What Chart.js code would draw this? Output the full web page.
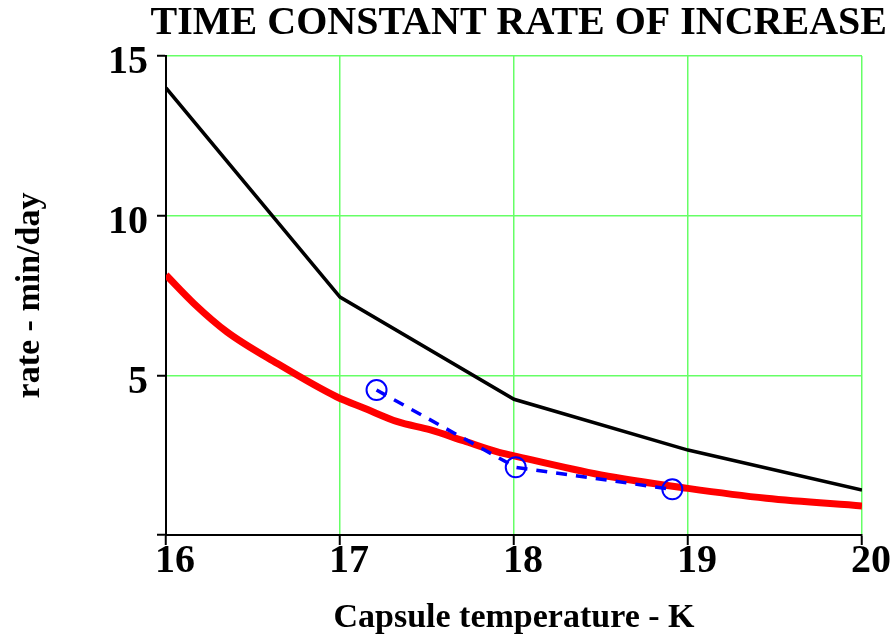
<!DOCTYPE html>
<html>
<head>
<meta charset="utf-8">
<title>Time constant rate of increase</title>
<script src="https://cdn.jsdelivr.net/npm/chart.js@4.4.0/dist/chart.umd.min.js"></script>
<style>
  html, body { margin: 0; padding: 0; background: #fff; }
</style>
</head>
<body>
<canvas id="rateChart" width="894" height="643"></canvas>
<script>
Chart.defaults.font.family = "'Liberation Serif', 'Times New Roman', serif";
Chart.defaults.font.weight = "bold";
Chart.defaults.color = "#000";

// capsule temperature (K) against rate (min/day)
const redTemp = [16.0, 16.16, 16.35, 16.64, 16.98, 17.14, 17.33, 17.52, 17.71, 17.9, 18.0, 18.5, 19.0, 19.45, 20.0];
const redRate = [8.14, 7.25, 6.36, 5.37, 4.33, 3.97, 3.55, 3.29, 2.95, 2.61, 2.48, 1.88, 1.46, 1.15, 0.91];
const blackTemp = [16, 17, 18, 19, 20];
const blackRate = [14.0, 7.45, 4.25, 2.66, 1.41];
const blueTemp = [17.21, 18.01, 18.91];
const blueRate = [4.54, 2.12, 1.43];
const xTicks = [16, 17, 18, 19, 20];
const yTicks = [0, 5, 10, 15];

const pts = (xs, ys) => xs.map((x, i) => ({ x: x, y: ys[i] }));
const green = "#66ff66";
const none = "rgba(0,0,0,0)";

new Chart(document.getElementById("rateChart"), {
  type: "line",
  data: {
    datasets: [
      {
        label: "measured",
        data: pts(blueTemp, blueRate),
        borderColor: "#0000ff",
        borderWidth: 3.5,
        borderDash: [11, 9],
        pointRadius: 10,
        pointBorderWidth: 2,
        pointBorderColor: "#0000ff",
        pointBackgroundColor: none,
        order: 0,
      },
      {
        label: "fit",
        data: pts(redTemp, redRate),
        borderColor: "#ff0000",
        borderWidth: 7,
        pointRadius: 0,
        cubicInterpolationMode: "monotone",
        order: 1,
      },
      {
        label: "upper",
        data: pts(blackTemp, blackRate),
        borderColor: "#000",
        borderWidth: 3.5,
        pointRadius: 0,
        tension: 0,
        order: 2,
      },
    ],
  },
  options: {
    responsive: false,
    animation: false,
    layout: { padding: { top: 0, right: 7, bottom: 0, left: 0 } },
    plugins: {
      legend: { display: false },
      tooltip: { enabled: false },
      title: {
        display: true,
        text: "TIME CONSTANT RATE OF INCREASE",
        align: "end",
        color: "#000",
        font: { size: 40, lineHeight: 1 },
        padding: { top: 4, bottom: 12 },
      },
    },
    scales: {
      x: {
        type: "linear",
        min: 16,
        max: 20,
        afterBuildTicks: (s) => { s.ticks = xTicks.map((v) => ({ value: v })); },
        afterFit: (s) => { s.height = 108; s.paddingLeft = 0; s.paddingRight = 32; },
        ticks: { font: { size: 40, lineHeight: 1 }, padding: -3, labelOffset: 9, maxRotation: 0, autoSkip: false },
        grid: {
          color: (c) => (c.tick && c.tick.value === 16 ? none : green),
          lineWidth: 1.5,
          tickColor: "#000",
          tickLength: 10,
          tickWidth: 2,
        },
        border: { color: "#000", width: 2 },
        title: {
          display: true,
          text: "Capsule temperature - K",
          font: { size: 34 },
          padding: { top: 0, bottom: 4 },
        },
      },
      y: {
        type: "linear",
        min: 0,
        max: 15,
        afterBuildTicks: (s) => { s.ticks = yTicks.map((v) => ({ value: v })); },
        afterFit: (s) => { s.width = 166; s.paddingTop = 0; s.paddingBottom = 0; },
        ticks: { font: { size: 40, lineHeight: 1 }, padding: 9, labelOffset: 7, callback: (v) => (v === 0 ? "" : v) },
        grid: {
          color: (c) => (c.tick && c.tick.value === 0 ? none : green),
          lineWidth: 1.5,
          tickColor: "#000",
          tickLength: 9,
          tickWidth: 2,
        },
        border: { color: "#000", width: 2 },
        title: {
          display: true,
          text: "rate - min/day",
          font: { size: 34 },
          padding: { top: 10, bottom: 0 },
        },
      },
    },
  },
});
</script>
</body>
</html>
